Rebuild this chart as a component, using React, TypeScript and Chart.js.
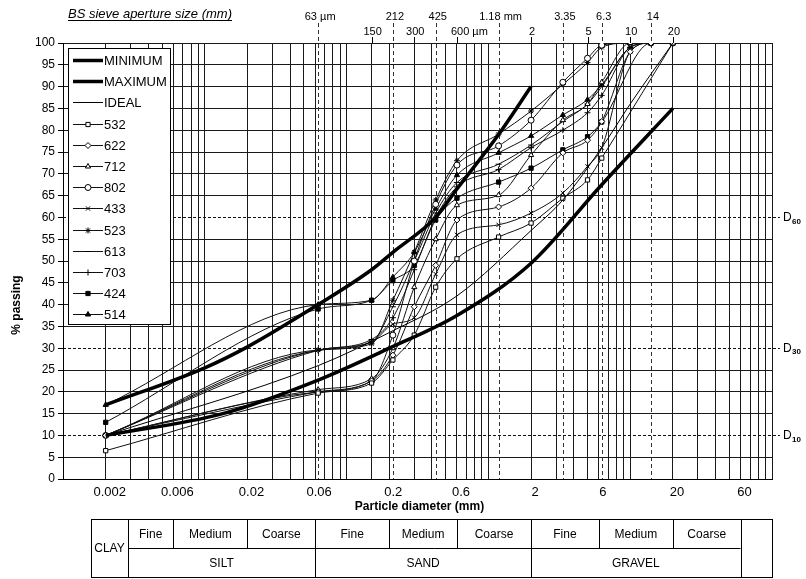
import React, { useEffect, useRef } from "react";
import { Chart, registerables } from "chart.js";
import { drawPoint } from "chart.js/helpers";

Chart.register(...registerables);

// Sieve apertures (mm) used for every sample grading
const SIEVES = [0.002, 0.063, 0.15, 0.212, 0.3, 0.425, 0.6, 1.18, 2, 3.35, 5, 6.3, 10, 14, 20];

// % passing for each sample (null = sieve not reported)
const S532 = [6.5, 19.7, 22, 27.3, 33, 44, 50.5, 55.5, 58.7, 64.4, 68.6, 73.6, null, null, 100];
const S622 = [10, 20, 22.5, 28.4, 39.5, 49, 59.4, 62.4, 66.7, 74.8, 77.7, 82, 98, 100, 100];
const S712 = [10, 20.5, 23, 30, 44, 55, 62.8, 65.1, 74.3, 82.3, 86, 91, 100, 100, 100];
const S802 = [10, 20, 22.5, 33, 50, 63, 72, 76.4, 82.3, 91, 96.5, 99.5, 100, 100, 100];
const S433 = [10, 29.6, 31.4, 35.5, 37, 47, 56, 58.3, 61, 65.6, 71.7, 76, 98, 100, 100];
const S523 = [10, 29.6, 31, 41, 52, 64, 73, 79.1, 84.4, 90.5, 95.5, 99, 100, 100, 100];
const S613 = [10, 29.5, 31.5, 39.5, 50, 61, 68, 72.2, 76.6, 82, 86, 90, 99, 100, 100];
const S703 = [10, 29.5, 32, 37, 48, 60, 67, 71, 76, 80, 84, 88, 99, 100, 100];
const S424 = [13, 39, 41, 45.5, 49, 59.4, 64.4, 68.1, 71.3, 75.5, 78.5, 81.9, null, 100, 100];
const S514 = [17, 40, 41, 46.3, 52, 62, 69.7, 74.8, 78.7, 83.5, 87, 90.4, 99, 100, 100];

// Grading envelope and ideal curve
const MIN_X = [0.002, 0.0134, 0.063, 0.2, 0.6, 2, 6.3, 20];
const MIN_Y = [10, 15, 22.7, 30, 37.5, 49.5, 67.5, 85];
const MAX_X = [0.002, 0.01, 0.02, 0.063, 0.15, 0.212, 0.425, 0.6, 1.18, 2];
const MAX_Y = [17, 25.5, 30.3, 40, 48, 52, 60, 66.5, 79, 90];
const IDEAL_X = [0.002, 0.063, 0.212, 0.6, 2, 3.35, 6.3, 10, 20];
const IDEAL_Y = [10, 26, 34, 42, 57, 64, 76, 86, 100];

// Axis and annotation text
const X_LABELS = [0.002, 0.006, 0.02, 0.06, 0.2, 0.6, 2, 6, 20, 60];
const EXTRA_GRID = [0.15, 0.3];
const SIEVE_DASHED = [0.063, 0.212, 0.425, 1.18, 3.35, 6.3, 14];
const SIEVE_DASHED_LABELS = ["63 µm", "212", "425", "1.18 mm", "3.35", "6.3", "14"];
const SIEVE_SOLID = [0.15, 0.3, 0.6, 2, 5, 10, 20];
const SIEVE_SOLID_LABELS = ["150", "300", "600 µm", "2", "5", "10", "20"];
const D_LEVELS = [60, 30, 10];
const D_LABELS = ["60", "30", "10"];

// Soil classification bar: boundaries (mm) and names
const CLASS_BOUNDS = [0.006, 0.02, 0.06, 0.2, 0.6, 2, 6, 20];
const SIZE_CLASSES = ["SILT", "SAND", "GRAVEL"];
const SUB_CLASSES = ["Fine", "Medium", "Coarse"];

const FONT = '"Liberation Sans", Arial, Helvetica, sans-serif';
const INK = "#000";

const SAMPLES = [
  { label: "532", values: S532, style: "rect", filled: false },
  { label: "622", values: S622, style: "rectRot", filled: false },
  { label: "712", values: S712, style: "triangle", filled: false },
  { label: "802", values: S802, style: "circle", filled: false },
  { label: "433", values: S433, style: "crossRot", filled: false },
  { label: "523", values: S523, style: "star", filled: false },
  { label: "613", values: S613, style: "line", filled: false },
  { label: "703", values: S703, style: "cross", filled: false },
  { label: "424", values: S424, style: "rect", filled: true },
  { label: "514", values: S514, style: "triangle", filled: true },
];

const toPoints = (xs: number[], ys: (number | null)[]) =>
  xs.map((x, i) => ({ x, y: ys[i] })).filter((p) => p.y !== null && p.y !== undefined);

function gridValues(): number[] {
  const out: number[] = [];
  for (let e = -3; e <= 1; e++) {
    for (let m = 1; m <= 9; m++) out.push(Number((m * Math.pow(10, e)).toPrecision(6)));
  }
  out.push(100, ...EXTRA_GRID);
  return out.sort((a, b) => a - b);
}

const sameValue = (a: number, b: number) => Math.abs(Math.log10(a) - Math.log10(b)) < 1e-6;

const decor = {
  id: "decor",
  beforeDatasetsDraw(chart: any) {
    const { ctx, chartArea: a, scales } = chart;
    const x = scales.x;
    const y = scales.y;
    ctx.save();
    ctx.lineWidth = 1;
    // D10 / D30 / D60 reference lines
    ctx.strokeStyle = "#111";
    ctx.setLineDash([3, 2]);
    D_LEVELS.forEach((d) => {
      const py = Math.round(y.getPixelForValue(d)) + 0.5;
      ctx.beginPath();
      ctx.moveTo(a.left, py);
      ctx.lineTo(a.right + 8, py);
      ctx.stroke();
    });
    // dashed sieve apertures
    ctx.strokeStyle = "#333";
    ctx.setLineDash([4, 3]);
    SIEVE_DASHED.forEach((s) => {
      const px = Math.round(x.getPixelForValue(s)) + 0.5;
      ctx.beginPath();
      ctx.moveTo(px, 23);
      ctx.lineTo(px, a.bottom);
      ctx.stroke();
    });
    // solid sieve ticks above the plot
    ctx.setLineDash([]);
    ctx.strokeStyle = INK;
    SIEVE_SOLID.forEach((s) => {
      const px = Math.round(x.getPixelForValue(s)) + 0.5;
      ctx.beginPath();
      ctx.moveTo(px, 37);
      ctx.lineTo(px, a.top);
      ctx.stroke();
    });
    ctx.restore();
  },
  afterDraw(chart: any) {
    const { ctx, chartArea: a, scales } = chart;
    const x = scales.x;
    const y = scales.y;
    ctx.save();
    ctx.fillStyle = INK;
    ctx.strokeStyle = INK;
    ctx.setLineDash([]);

    // heading with underline
    ctx.font = `italic 13px ${FONT}`;
    ctx.textAlign = "left";
    ctx.textBaseline = "alphabetic";
    const head = "BS sieve aperture size (mm)";
    ctx.fillText(head, 68, 18);
    const hw = ctx.measureText(head).width;
    ctx.lineWidth = 1;
    ctx.beginPath();
    ctx.moveTo(68, 20.5);
    ctx.lineTo(68 + hw, 20.5);
    ctx.stroke();

    // sieve labels
    ctx.font = `11px ${FONT}`;
    ctx.textAlign = "center";
    ctx.textBaseline = "middle";
    SIEVE_DASHED.forEach((s, i) => ctx.fillText(SIEVE_DASHED_LABELS[i], x.getPixelForValue(s) + 2, 17));
    SIEVE_SOLID.forEach((s, i) => {
      const lbl = SIEVE_SOLID_LABELS[i];
      const px = x.getPixelForValue(s);
      if (lbl.length > 3) {
        ctx.textAlign = "left";
        ctx.fillText(lbl, px - 6, 32);
        ctx.textAlign = "center";
      } else {
        ctx.fillText(lbl, px + 1, 32);
      }
    });

    // axis titles
    ctx.font = `bold 12px ${FONT}`;
    ctx.fillText("Particle diameter (mm)", (a.left + a.right) / 2 + 2, 507);
    ctx.save();
    ctx.translate(17, (a.top + a.bottom) / 2 + 44);
    ctx.rotate(-Math.PI / 2);
    ctx.fillText("% passing", 0, 0);
    ctx.restore();

    // D labels
    D_LEVELS.forEach((d, i) => {
      const py = y.getPixelForValue(d);
      ctx.textAlign = "left";
      ctx.font = `12px ${FONT}`;
      ctx.fillText("D", 783, py);
      ctx.font = `bold 8px ${FONT}`;
      ctx.fillText(D_LABELS[i], 792, py + 4);
    });

    // legend
    const lx = 68, ly = 48, lw = 102, lh = 276;
    ctx.fillStyle = "#fff";
    ctx.fillRect(lx, ly, lw, lh);
    ctx.strokeStyle = INK;
    ctx.lineWidth = 1;
    ctx.strokeRect(lx + 0.5, ly + 0.5, lw, lh);
    ctx.font = `13px ${FONT}`;
    ctx.textAlign = "left";
    ctx.textBaseline = "middle";
    chart.data.datasets.forEach((ds: any, i: number) => {
      const cy = Math.round(60 + i * 21.2) + 0.5;
      ctx.strokeStyle = ds.borderColor;
      ctx.lineWidth = ds.borderWidth;
      ctx.beginPath();
      ctx.moveTo(73, cy);
      ctx.lineTo(103, cy);
      ctx.stroke();
      if (ds.pointRadius > 0) {
        ctx.fillStyle = ds.pointBackgroundColor;
        ctx.strokeStyle = ds.pointBorderColor;
        ctx.lineWidth = 1;
        drawPoint(ctx, { pointStyle: ds.pointStyle, radius: ds.pointRadius, rotation: 0, borderWidth: 1 }, 88, cy);
      }
      ctx.fillStyle = INK;
      ctx.fillText(ds.label, 104, cy + 1);
    });

    // soil classification table, columns follow the size boundaries on the axis
    const tl = 91, tr = a.right, tt = 519, tm = 548, tb = 577, clayR = 128;
    const cols = [clayR, ...CLASS_BOUNDS.map((b) => x.getPixelForValue(b)), x.getPixelForValue(60)];
    const lastL = cols[cols.length - 1];
    ctx.strokeStyle = INK;
    ctx.lineWidth = 1;
    ctx.strokeRect(tl + 0.5, tt + 0.5, tr - tl, tb - tt);
    const vline = (px: number, y0: number, y1: number) => {
      ctx.beginPath();
      ctx.moveTo(Math.round(px) + 0.5, y0);
      ctx.lineTo(Math.round(px) + 0.5, y1);
      ctx.stroke();
    };
    vline(clayR, tt, tb);
    vline(lastL, tt, tb);
    ctx.beginPath();
    ctx.moveTo(clayR, tm + 0.5);
    ctx.lineTo(lastL, tm + 0.5);
    ctx.stroke();
    for (let k = 1; k < 9; k++) vline(cols[k], tt, k % 3 === 0 ? tb : tm);
    ctx.fillStyle = INK;
    ctx.font = `12px ${FONT}`;
    ctx.textAlign = "center";
    ctx.textBaseline = "middle";
    ctx.fillText("CLAY", (tl + clayR) / 2, (tt + tb) / 2 + 1);
    for (let k = 0; k < 9; k++) ctx.fillText(SUB_CLASSES[k % 3], (cols[k] + cols[k + 1]) / 2, (tt + tm) / 2 + 1);
    SIZE_CLASSES.forEach((c, g) => ctx.fillText(c, (cols[g * 3] + cols[g * 3 + 3]) / 2, (tm + tb) / 2 + 1));
    ctx.restore();
  },
};

export default function App() {
  const ref = useRef<HTMLCanvasElement>(null);

  useEffect(() => {
    const canvas = ref.current;
    if (!canvas) return;
    const grid = gridValues();

    const envelope = (label: string, xs: number[], ys: number[], width: number) => ({
      label,
      data: toPoints(xs, ys),
      showLine: true,
      borderColor: INK,
      borderWidth: width,
      pointRadius: 0,
      cubicInterpolationMode: "monotone",
    });

    const datasets: any[] = [
      envelope("MINIMUM", MIN_X, MIN_Y, 3.5),
      envelope("MAXIMUM", MAX_X, MAX_Y, 3.5),
      envelope("IDEAL", IDEAL_X, IDEAL_Y, 1),
      ...SAMPLES.map((s) => ({
        label: s.label,
        data: toPoints(SIEVES, s.values),
        showLine: true,
        borderColor: "#111",
        borderWidth: 1,
        pointStyle: s.style,
        pointRadius: 3,
        pointBorderWidth: 1,
        pointBorderColor: INK,
        pointBackgroundColor: s.filled ? INK : "#fff",
        cubicInterpolationMode: "monotone",
      })),
    ];

    const chart = new Chart(canvas, {
      type: "scatter",
      data: { datasets },
      options: {
        responsive: false,
        animation: false,
        devicePixelRatio: 1,
        events: [],
        layout: { padding: { left: 0, top: 43, right: 34, bottom: 0 } },
        plugins: { legend: { display: false }, tooltip: { enabled: false } },
        scales: {
          x: {
            type: "logarithmic",
            min: 0.001,
            max: 100,
            afterBuildTicks: (scale: any) => {
              scale.ticks = grid.map((v) => ({ value: v }));
            },
            afterFit: (scale: any) => {
              scale.height = 100;
            },
            ticks: {
              autoSkip: false,
              maxRotation: 0,
              padding: 6,
              labelOffset: 4,
              color: INK,
              font: { family: FONT, size: 13 },
              callback: (v: any) => {
                const hit = X_LABELS.find((l) => sameValue(l, Number(v)));
                return hit !== undefined ? String(hit) : "";
              },
            },
            grid: { color: "#1a1a1a", lineWidth: 1, drawTicks: false },
            border: { color: INK, width: 1 },
          },
          y: {
            min: 0,
            max: 100,
            afterFit: (scale: any) => {
              scale.width = 63;
            },
            ticks: {
              stepSize: 5,
              autoSkip: false,
              padding: 3,
              color: INK,
              font: { family: FONT, size: 12 },
            },
            grid: {
              color: (c: any) => (c.tick && D_LEVELS.includes(c.tick.value) ? "rgba(0,0,0,0)" : "#1a1a1a"),
              lineWidth: 1,
              tickLength: 5,
              tickColor: INK,
            },
            border: { color: INK, width: 1 },
          },
        },
      } as any,
      plugins: [decor],
    });

    return () => chart.destroy();
  }, []);

  return (
    <div style={{ position: "absolute", left: 0, top: 0, width: 806, height: 579, background: "#fff" }}>
      <canvas ref={ref} width={806} height={579} style={{ display: "block" }} />
    </div>
  );
}
